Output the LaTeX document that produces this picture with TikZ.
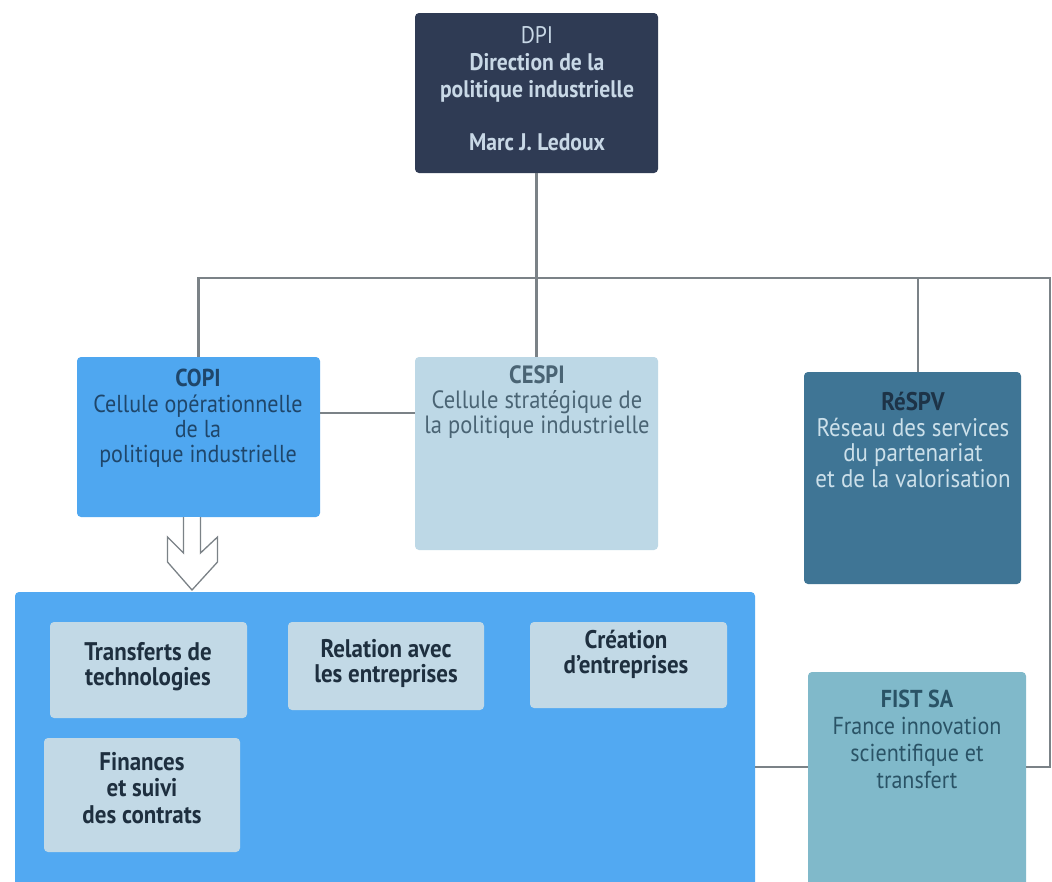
\documentclass[tikz,border=0pt]{standalone}
\usepackage{fontspec}
\setmainfont{PT Sans}[FakeStretch=0.9]
\definecolor{linegray}{HTML}{7B8287}
\definecolor{dpifill}{HTML}{2F3B54}
\definecolor{dpitext}{HTML}{C8D8E6}
\definecolor{copifill}{HTML}{4FA7F0}
\definecolor{copitext}{HTML}{1F466A}
\definecolor{cespifill}{HTML}{BDD8E6}
\definecolor{cespitext}{HTML}{4A6474}
\definecolor{respvfill}{HTML}{3F7595}
\definecolor{respvtitle}{HTML}{1D3347}
\definecolor{respvtext}{HTML}{CCE0EA}
\definecolor{bigfill}{HTML}{52A9F2}
\definecolor{innerfill}{HTML}{C2D9E6}
\definecolor{innertext}{HTML}{1E2F3F}
\definecolor{fistfill}{HTML}{80B9CA}
\definecolor{fisttext}{HTML}{2A5366}
\begin{document}
\begin{tikzpicture}[x=1pt,y=-1pt,
  box/.style={draw=none, rounded corners=4pt, inner sep=0pt, outer sep=0pt, anchor=north west},
  conn/.style={draw=linegray, line width=2.2pt},
  hollow/.style={draw=linegray, line width=1.3pt, fill=white, line join=miter},
  txt/.style={align=center, inner sep=0pt, anchor=north},
  itxt/.style={txt, text=innertext, font=\fontsize{25.5}{25}\selectfont\bfseries},
]
\useasboundingbox (0,0) rectangle (1052,881);
\fill[white] (0,0) rectangle (1052,881);
% boxes
\node[box, fill=dpifill, minimum width=243pt, minimum height=160pt] (dpi) at (415,13) {};
\node[box, fill=copifill, minimum width=243pt, minimum height=160pt] (copi) at (77,357) {};
\node[box, fill=cespifill, minimum width=243pt, minimum height=193pt] (cespi) at (415,357) {};
\node[box, fill=respvfill, minimum width=217pt, minimum height=212pt] (respv) at (804,372) {};
\node[box, fill=bigfill, minimum width=740pt, minimum height=310pt] (big) at (15,592) {};
\node[box, fill=fistfill, minimum width=218pt, minimum height=230pt] (fist) at (808,672) {};
\node[box, fill=innerfill, minimum width=197pt, minimum height=96pt] (transf) at (50,622) {};
\node[box, fill=innerfill, minimum width=196pt, minimum height=88pt] (relat) at (288,622) {};
\node[box, fill=innerfill, minimum width=197pt, minimum height=86pt] (creat) at (530,622) {};
\node[box, fill=innerfill, minimum width=196pt, minimum height=114pt] (finan) at (44,738) {};
% connectors
\coordinate (tr) at (1050,278);
\coordinate (br) at (1050,767);
\coordinate (rj) at (918,278);
\draw[conn] (dpi.south) -- (cespi.north);
\draw[conn] (copi.north) |- (tr) -- (br) -- (br -| fist.east);
\draw[conn] (rj) -- (rj |- respv.north);
\draw[conn] ([yshift=24pt]copi.east) -- ([yshift=24pt]copi.east -| cespi.west);
\draw[conn] (br -| big.east) -- (br -| fist.west);
% hollow arrow from COPI to the big box
\coordinate (a0) at ([xshift=-6.5pt]copi.south);
\draw[hollow, shift={(a0)}] (-8.5,0) -- (-8.5,36) -- (-24.5,20) -- (-24.5,45) -- (0,73) -- (25.5,45) -- (25.5,20) -- (8.5,36) -- (8.5,0);
% texts
\node[txt, text=dpitext, font=\fontsize{24}{27}\selectfont\bfseries] (dpiT) at (537,26)
  {{\mdseries DPI}\\Direction de la\\politique industrielle\\[26pt]Marc J. Ledoux};
\node[txt, text=copitext, font=\fontsize{24.5}{25.3}\selectfont] (copiT) at (198,369)
  {{\bfseries COPI}\\Cellule opérationnelle\\de la\\politique industrielle};
\node[txt, text=cespitext, font=\fontsize{25}{25}\selectfont] (cespiT) at (537,365)
  {{\bfseries CESPI}\\Cellule stratégique de\\la politique industrielle};
\node[txt, text=respvtext, font=\fontsize{25.5}{25.5}\selectfont] (respvT) at (913,392)
  {{\bfseries\color{respvtitle}RéSPV}\\Réseau des services\\du partenariat\\et de la valorisation};
\node[itxt] (transfT) at (148,642) {Transferts de\\technologies};
\node[itxt] (relatT) at (386,639) {Relation avec\\les entreprises};
\node[itxt] (creatT) at (626,630) {Création\\d’entreprises};
\node[itxt, font=\fontsize{25.5}{26.5}\selectfont\bfseries] (finanT) at (142,752) {Finances\\et suivi\\des contrats};
\node[txt, text=fisttext, font=\fontsize{24.5}{27}\selectfont] (fistT) at (917,690)
  {{\bfseries FIST SA}\\France innovation\\scientifique et\\transfert};
\end{tikzpicture}
\end{document}
